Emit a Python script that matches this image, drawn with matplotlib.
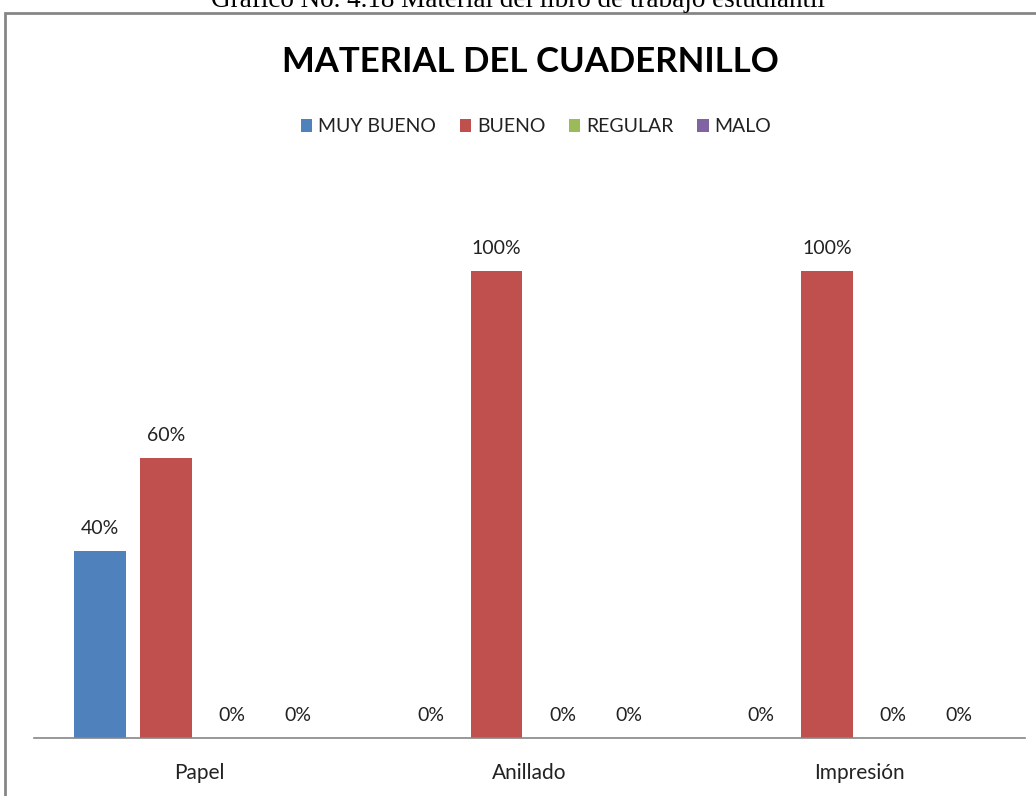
import numpy as np
import matplotlib.pyplot as plt
from matplotlib.patches import Rectangle

categories = ["Papel", "Anillado", "Impresión"]
series_names = ["MUY BUENO", "BUENO", "REGULAR", "MALO"]
muy_bueno = [0.40, 0.0, 0.0]
bueno = [0.60, 1.00, 1.00]
regular = [0.0, 0.0, 0.0]
malo = [0.0, 0.0, 0.0]
colors = ["#4F81BD", "#C0504D", "#9BBB59", "#8064A2"]

W, H = 1036, 796
fig = plt.figure(figsize=(W / 100, H / 100), dpi=100)
plt.rcParams['font.family'] = ['Lato', 'DejaVu Sans']

# caption above the chart frame (cut off at the top, as in the source)
fig.text(0.5, 1 - 7 / H, "Gráfico No. 4.18 Material del libro de trabajo estudiantil",
         ha='center', va='baseline', fontsize=19.5, family=['Liberation Serif'], color='black')

# chart frame
fig.patches.append(Rectangle((5 / W, -0.1), 1.2, 1 - 13 / H + 0.1, transform=fig.transFigure,
                             fill=False, edgecolor='#868686', linewidth=2))

ax = fig.add_axes([34 / W, 1 - 738 / H, (1025 - 34) / W, (738 - 178) / H])

values = [muy_bueno, bueno, regular, malo]
x = np.arange(len(categories))
step = 0.2
width = 0.157
for i, (name, vals) in enumerate(zip(series_names, values)):
    pos = x + (i - 1.5) * step
    ax.bar(pos, vals, width, color=colors[i], label=name, zorder=2)
    for p, v in zip(pos, vals):
        ax.text(p, v + 0.03, "%d%%" % round(v * 100), ha='center', va='bottom',
                fontsize=14, color='#222222')

ax.set_xlim(-0.5, 2.5)
ax.set_ylim(0, 1.2)
ax.set_xticks(x)
ax.set_xticklabels(categories, fontsize=15, color='#222222')
ax.tick_params(axis='x', length=0, pad=18)
ax.set_yticks([])
for s in ['top', 'right', 'left']:
    ax.spines[s].set_visible(False)
ax.spines['bottom'].set_color('#868686')
ax.spines['bottom'].set_linewidth(1.2)

fig.text(530 / W, 1 - 62 / H, "MATERIAL DEL CUADERNILLO", ha='center', va='center',
         fontsize=25, fontweight='bold')

fig.legend(loc='center', bbox_to_anchor=(536 / W, 1 - 127 / H), ncol=4, frameon=False,
           fontsize=14, handlelength=0.6, handleheight=0.6, handletextpad=0.3,
           columnspacing=1.2, labelcolor='#222222')

fig.savefig("out.png", dpi=100, facecolor='white')
